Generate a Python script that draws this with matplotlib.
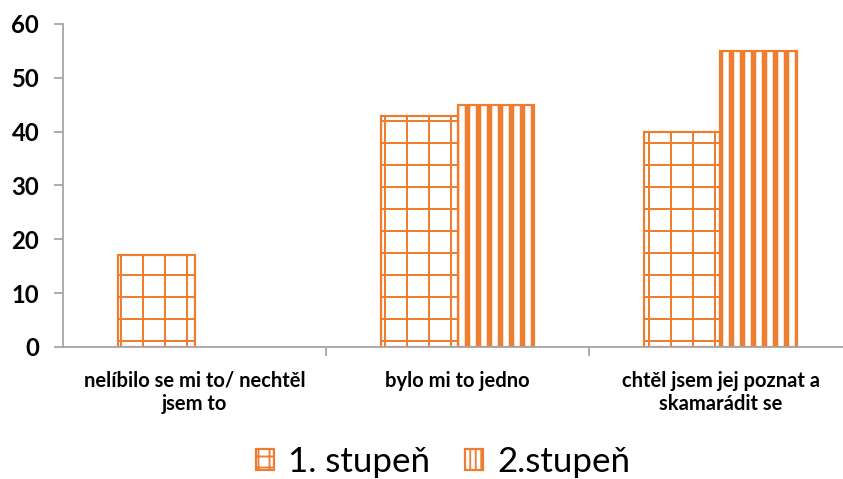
import matplotlib
matplotlib.use("Agg")
import matplotlib.pyplot as plt
from matplotlib.patches import Patch
import numpy as np

categories = ["nelíbilo se mi to/ nechtěl\njsem to",
              "bylo mi to jedno",
              "chtěl jsem jej poznat a\nskamarádit se"]
series_names = ["1. stupeň", "2.stupeň"]
stupen1 = [17, 43, 40]
stupen2 = [0, 45, 55]
yticks = [0, 10, 20, 30, 40, 50, 60]

orange = "#ED7D31"
axis_grey = "#A6A6A6"
plt.rcParams["font.family"] = ["Lato", "DejaVu Sans"]

DPI = 132
fig = plt.figure(figsize=(843 / DPI, 479 / DPI), dpi=DPI)
ax = fig.add_axes([63 / 843, 1 - 347 / 479, 780 / 843, 323 / 479])

x = np.arange(len(categories))
w = 0.289
b1 = ax.bar(x - w / 2, stupen1, w, facecolor="white", edgecolor=orange,
            linewidth=1.2, hatch="+")
b2 = ax.bar(x + w / 2, stupen2, w, facecolor="white", edgecolor=orange,
            linewidth=1.2, hatch="||")
for bars, hlw in ((b1, 1.1), (b2, 3.0)):
    for p in bars:
        if hasattr(p, "set_hatch_linewidth"):
            p.set_hatch_linewidth(hlw)
        if p.get_height() == 0:
            p.set_visible(False)

ax.set_xlim(-0.5, -0.5 + 780 / 263)
ax.set_ylim(0, 60)
ax.set_yticks(yticks)
ax.set_yticklabels([str(v) for v in yticks], fontsize=13, fontweight="bold")
ax.set_xticks(x)
ax.set_xticklabels(categories, fontsize=11, fontweight="bold", linespacing=1.2)
ax.set_xticks([0.5, 1.5], minor=True)
ax.tick_params(axis="x", which="major", length=0, pad=13)
ax.tick_params(axis="x", which="minor", length=5, color=axis_grey, width=1)
ax.tick_params(axis="y", length=5, color=axis_grey, width=1, pad=8)

for s in ("top", "right"):
    ax.spines[s].set_visible(False)
for s in ("left", "bottom"):
    ax.spines[s].set_color(axis_grey)
    ax.spines[s].set_linewidth(1)

# legend keys: same fills at a finer hatch so the pattern shows in a small square
h1 = Patch(facecolor="white", edgecolor=orange, linewidth=1.2, hatch="++")
h2 = Patch(facecolor="white", edgecolor=orange, linewidth=1.2, hatch="||||")
for h, hlw in ((h1, 1.1), (h2, 2.2)):
    if hasattr(h, "set_hatch_linewidth"):
        h.set_hatch_linewidth(hlw)

leg = fig.legend(handles=[h1, h2], labels=series_names, loc="center",
                 bbox_to_anchor=(443 / 843, 1 - 462 / 479), ncol=2, frameon=False,
                 fontsize=19, handlelength=0.52, handleheight=0.52,
                 handletextpad=0.4, columnspacing=1.0)

fig.savefig("out.png", dpi=DPI)
